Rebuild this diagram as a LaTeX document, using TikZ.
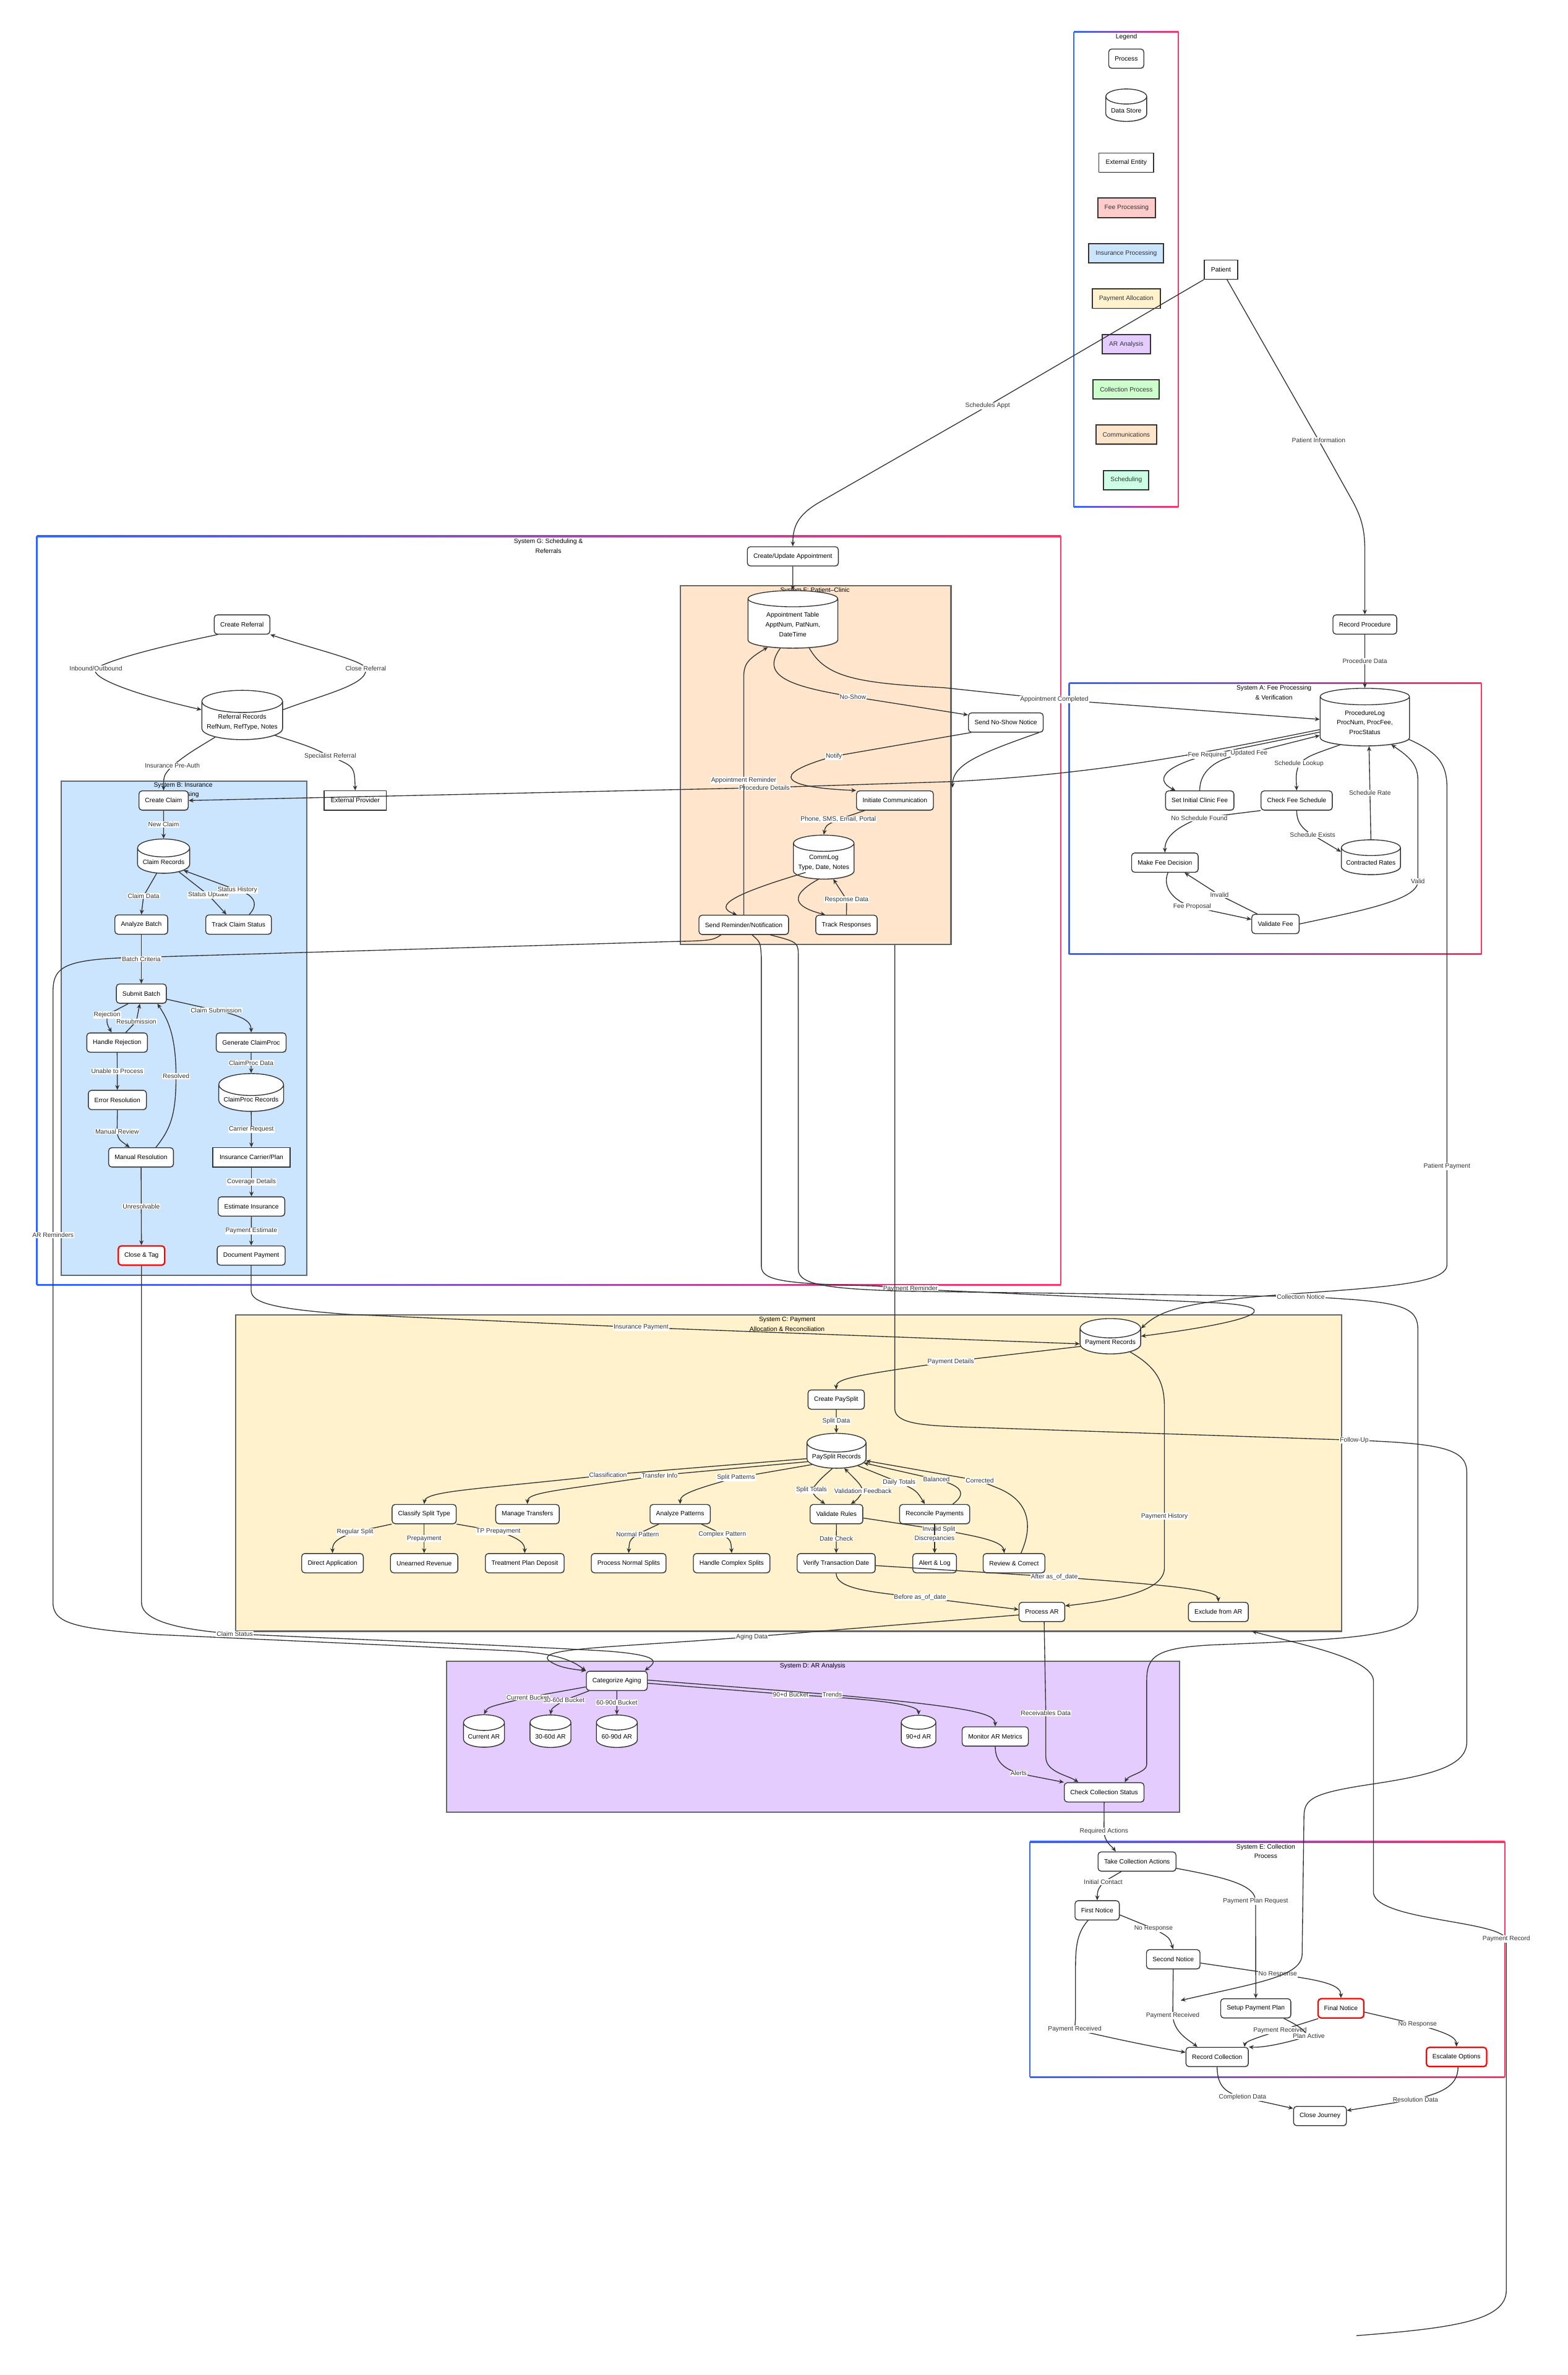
\documentclass[tikz,border=0pt]{standalone}
\usepackage{fontspec}
\setmainfont{Liberation Sans}
\usetikzlibrary{arrows.meta,shapes.geometric,shadows}
\definecolor{linec}{HTML}{333333}
\definecolor{boxc}{HTML}{666666}
\definecolor{gblue}{HTML}{3366FF}
\definecolor{gred}{HTML}{FF3366}
\definecolor{feec}{HTML}{FFCCCC}
\definecolor{insc}{HTML}{CCE5FF}
\definecolor{payc}{HTML}{FFF2CC}
\definecolor{arc}{HTML}{E5CCFF}
\definecolor{collc}{HTML}{CCFFCC}
\definecolor{commc}{HTML}{FFE5CC}
\definecolor{schedc}{HTML}{CCFFE5}
\newcommand\ndfont{\fontsize{4.2}{6.4}\selectfont}
\newcommand\lbfont{\fontsize{4.2}{5}\selectfont}
\newcommand\gradbox[4]{%
  \shade[left color=gblue,right color=gred] (#1,#2-0.45) rectangle (#3,#2+0.45);
  \shade[left color=gblue,right color=gred] (#1,#4-0.45) rectangle (#3,#4+0.45);
  \draw[gblue,line width=0.9pt] (#1,#2) -- (#1,#4);
  \draw[gred,line width=0.9pt] (#3,#2) -- (#3,#4);}
\tikzset{
  >={Stealth[length=3.2pt,width=2.8pt]},
  flow/.style={draw=linec,line width=0.55pt,->},
  lbl/.style={fill=white,inner sep=0.4pt,font=\lbfont,text=linec},
  ttl/.style={font=\ndfont,align=center,inner sep=0pt},
  proc/.style={draw=linec,rounded corners=2pt,fill=white,line width=0.55pt,
    minimum height=12.7pt,inner xsep=4pt,inner ysep=1pt,font=\ndfont,
    drop shadow={shadow xshift=0.4pt,shadow yshift=-0.5pt,opacity=0.3}},
  crit/.style={proc,draw=red,line width=0.9pt},
  ext/.style={draw=linec,fill=white,line width=0.55pt,minimum height=12.7pt,
    inner xsep=4.5pt,inner ysep=1pt,font=\ndfont,
    drop shadow={shadow xshift=0.4pt,shadow yshift=-0.5pt,opacity=0.3}},
  key/.style={ext,line width=0.8pt,text=linec},
  store/.style={cylinder,shape border rotate=90,aspect=0.3,draw=linec,fill=white,
    line width=0.55pt,font=\ndfont,align=center,inner sep=1pt,
    drop shadow={shadow xshift=0.4pt,shadow yshift=-0.5pt,opacity=0.3}},
}
\begin{document}
\begin{tikzpicture}[x=1pt,y=-1pt]
\useasboundingbox (0,0) rectangle (1035,1568);
\fill[white] (0,0) rectangle (1035,1568);

\gradbox{708.9}{21.1}{778}{334.7}
\gradbox{24.3}{354}{700.3}{848.3}
\gradbox{705.8}{451}{978}{630}
\gradbox{679.8}{1216}{993.3}{1371.3}
\filldraw[fill=commc,draw=boxc,line width=0.9pt] (449.2,386.7) rectangle (627.8,623.4);
\filldraw[fill=insc,draw=boxc,line width=0.9pt] (40.4,515.6) rectangle (202.5,841.9);
\filldraw[fill=payc,draw=boxc,line width=0.9pt] (155.5,868) rectangle (885.5,1077);
\filldraw[fill=arc,draw=boxc,line width=0.9pt] (294.8,1096.8) rectangle (778.7,1196.4);

\node[ttl] (tLegend) at (743.6,24.5) {Legend};
\node[ttl] (tG) at (362,360.4) {System G: Scheduling \&\\Referrals};
\node[ttl] (tF) at (538,392.5) {System F: Patient–Clinic\\Communications};
\node[ttl] (tA) at (841,457.3) {System A: Fee Processing\\\& Verification};
\node[ttl] (tB) at (120.9,521.6) {System B: Insurance\\Processing};
\node[ttl] (tC) at (519.6,874.2) {System C: Payment\\Allocation \& Reconciliation};
\node[ttl] (tD) at (536.4,1099.9) {System D: AR Analysis};
\node[ttl] (tE) at (835.6,1222.2) {System E: Collection\\Process};

\node[proc] (lgProc) at (743.5,38.7) {Process};
\node[store,aspect=0.45,minimum width=27pt,minimum height=21.4pt] (lgStore) at (743.5,73) {Data Store};
\node[ext] (lgExt) at (743.5,107.4) {External Entity};
\node[key,fill=feec] (lgFee) at (743.7,137.2) {Fee Processing};
\node[key,fill=insc] (lgIns) at (743.5,167.2) {Insurance Processing};
\node[key,fill=payc] (lgPay) at (743.5,197.2) {Payment Allocation};
\node[key,fill=arc] (lgAR) at (743.5,227.2) {AR Analysis};
\node[key,fill=collc] (lgColl) at (743.5,257) {Collection Process};
\node[key,fill=commc] (lgComm) at (743.5,287) {Communications};
\node[key,fill=schedc] (lgSched) at (743.5,317) {Scheduling};

\node[ext] (patient) at (806,178) {Patient};

\node[proc] (apptUpd) at (523.4,367.3) {Create/Update Appointment};
\node[proc] (refCreate) at (159.8,412.3) {Create Referral};
\node[store,minimum width=53.3pt,minimum height=31pt] (refRec) at (159.9,476.8) {Referral Records\\RefNum, RefType, Notes};
\node[ext] (extProv) at (234.5,528.5) {External Provider};

\node[store,aspect=0.28,minimum width=59.3pt,minimum height=38pt] (apptTab) at (523.4,412.4) {Appointment Table\\ApptNum, PatNum,\\DateTime};
\node[proc] (noShow) at (664,477) {Send No-Show Notice};
\node[proc] (initComm) at (590.8,528.5) {Initiate Communication};
\node[store,minimum width=40pt,minimum height=29pt] (commLog) at (543.8,569.5) {CommLog\\Type, Date, Notes};
\node[proc] (sendRem) at (491,610.6) {Send Reminder/Notification};
\node[proc] (trackResp) at (558.8,610.6) {Track Responses};

\node[proc] (recProc) at (901,412.3) {Record Procedure};
\node[store,aspect=0.28,minimum width=59pt,minimum height=38pt] (procLog) at (901,477) {ProcedureLog\\ProcNum, ProcFee,\\ProcStatus};
\node[proc] (setFee) at (792,528.5) {Set Initial Clinic Fee};
\node[proc] (chkSched) at (856,528.5) {Check Fee Schedule};
\node[store,minimum width=39pt,minimum height=23pt] (contract) at (905,569.5) {Contracted Rates};
\node[proc] (feeDec) at (769,569.5) {Make Fee Decision};
\node[proc] (valFee) at (842,610) {Validate Fee};

\node[proc] (crClaim) at (108,528.5) {Create Claim};
\node[store,aspect=0.4,minimum width=34.4pt,minimum height=22.6pt] (claimRec) at (108,569.3) {Claim Records};
\node[proc] (anBatch) at (93.3,610.4) {Analyze Batch};
\node[proc] (trackClaim) at (157.5,610.4) {Track Claim Status};
\node[proc] (subBatch) at (93.3,656) {Submit Batch};
\node[proc] (handRej) at (77.3,688.3) {Handle Rejection};
\node[proc] (genCP) at (165.8,688.3) {Generate ClaimProc};
\node[proc] (errRes) at (77.5,726.2) {Error Resolution};
\node[store,aspect=0.38,minimum width=42.8pt,minimum height=23.7pt] (cpRec) at (165.8,726.1) {ClaimProc Records};
\node[proc] (manRes) at (93.1,764.1) {Manual Resolution};
\node[ext] (carrier) at (166,764.1) {Insurance Carrier/Plan};
\node[proc] (estIns) at (166,796.5) {Estimate Insurance};
\node[crit] (closeTag) at (93.4,828.9) {Close \& Tag};
\node[proc] (docPay) at (165.8,828.9) {Document Payment};

\node[store,aspect=0.36,minimum width=40pt,minimum height=23pt] (payRec) at (733,886.5) {Payment Records};
\node[proc] (crSplit) at (552,924) {Create PaySplit};
\node[store,aspect=0.36,minimum width=39pt,minimum height=23pt] (splitRec) at (552.2,962) {PaySplit Records};
\node[proc] (classify) at (280,999.6) {Classify Split Type};
\node[proc] (manTrans) at (348.2,999.6) {Manage Transfers};
\node[proc] (anPat) at (449,999.6) {Analyze Patterns};
\node[proc] (valRules) at (552.2,999.6) {Validate Rules};
\node[proc] (reconcile) at (617,999.6) {Reconcile Payments};
\node[proc] (directApp) at (219.5,1032) {Direct Application};
\node[proc] (unearned) at (280,1032) {Unearned Revenue};
\node[proc] (tpDeposit) at (346.4,1032) {Treatment Plan Deposit};
\node[proc] (normSplit) at (415,1032) {Process Normal Splits};
\node[proc] (cplxSplit) at (483,1032) {Handle Complex Splits};
\node[proc] (verDate) at (552,1032) {Verify Transaction Date};
\node[proc] (alertLog) at (617,1032) {Alert \& Log};
\node[proc] (review) at (669.4,1032) {Review \& Correct};
\node[proc] (procAR) at (687.8,1064.2) {Process AR};
\node[proc] (exclAR) at (804.3,1064.2) {Exclude from AR};

\node[proc] (catAging) at (407.2,1109.7) {Categorize Aging};
\node[store,aspect=0.45,minimum width=27pt,minimum height=21.4pt] (curAR) at (319.5,1146.5) {Current AR};
\node[store,aspect=0.45,minimum width=27pt,minimum height=21.4pt] (ar3060) at (363.4,1146.5) {30-60d AR};
\node[store,aspect=0.45,minimum width=27pt,minimum height=21.4pt] (ar6090) at (407.2,1146.5) {60-90d AR};
\node[store,aspect=0.5,minimum width=22.8pt,minimum height=21.4pt] (ar90) at (606.4,1146.5) {90+d AR};
\node[proc] (monAR) at (657,1146.4) {Monitor AR Metrics};
\node[proc] (chkColl) at (728.9,1183.3) {Check Collection Status};

\node[proc] (takeColl) at (750.6,1229) {Take Collection Actions};
\node[proc] (notice1) at (724.3,1261.2) {First Notice};
\node[proc] (notice2) at (774.5,1293.5) {Second Notice};
\node[proc] (payPlan) at (829,1325.9) {Setup Payment Plan};
\node[crit] (notice3) at (885.2,1325.9) {Final Notice};
\node[proc] (recColl) at (803.5,1358) {Record Collection};
\node[crit] (escal) at (961.5,1358) {Escalate Options};
\node[proc] (closeJ) at (871.4,1397) {Close Journey};

\coordinate (fRight) at (628.8,520);
\coordinate (fBottom) at (590.7,624);
\coordinate (fuEnd) at (779.4,1320.7);
\coordinate (prStart) at (895.4,1542);
\coordinate (cBottom) at (826.5,1077);

\draw[flow] (patient.south west) -- (652,268) node[lbl] (lSA) {Schedules Appt} -- (542,331) .. controls (526,340) and (523.4,348) .. (apptUpd.north);
\draw[flow] ([xshift=4pt]patient.south) -- (870.5,290.7) node[lbl] (lPI) {Patient Information} -- (893,331) .. controls (900,344) and (901,352) .. (901,365) -- (recProc.north);
\draw[flow] (recProc) -- node[lbl] (lPD) {Procedure Data} (procLog);

\draw[flow] ([xshift=-16pt]refCreate.south) .. controls (100,428) and (72,436) .. (63.3,441.3) node[lbl] (lIO) {Inbound/Outbound} .. controls (58,448) and (95,460) .. (refRec.163);
\draw[flow] (refRec.17) .. controls (215,458) and (243,452) .. (241.5,441.3) node[lbl] (lCR) {Close Referral} .. controls (240,436) and (205,428) .. (refCreate.south east);
\draw[flow] (refRec.209) .. controls (125,497) .. (113.8,505.5) node[lbl] (lIPA) {Insurance Pre-Auth} .. controls (108,512) .. (crClaim.north);
\draw[flow] (refRec.338) .. controls (205,493) .. (218,499.4) node[lbl] (lSR) {Specialist Referral} .. controls (234,506) .. (extProv.north);

\draw[flow] (apptUpd) -- (apptTab);
\draw[flow] (apptTab.242) .. controls (502,446) and (520,453) .. (563,460) node[lbl] (lNS) {No-Show} -- ([yshift=5pt]noShow.west);
\draw[flow] (apptTab.305) .. controls (545,447) and (565,451) .. (623,454) -- (696,461.8) node[lbl] (lAC) {Appointment Completed} -- (procLog.176);
\draw[flow] ([xshift=-23pt]noShow.south) -- (550.5,499.3) node[lbl] (lNo) {Notify} .. controls (505,512) and (518,520) .. (initComm.north west);
\draw[flow] ([xshift=22pt]noShow.south) .. controls (645,498) and (628.8,505) .. (fRight);
\draw[flow] ([xshift=-20pt]initComm.south) -- (553.4,541) node[lbl] (lPh) {Phone, SMS, Email, Portal} .. controls (545,545) .. (commLog.90);
\draw[flow] ([xshift=-12pt,yshift=-6.5pt]commLog.center) .. controls (485,590) and (470,598) .. ([xshift=-4.5pt]sendRem.north);
\draw[flow] (commLog.252) .. controls (516,594) and (530,600) .. ([xshift=-14pt]trackResp.north);
\draw[flow] (trackResp.north) -- (558.9,594) node[lbl] (lRD) {Response Data} -- (commLog.300);
\draw[flow] (procLog.189) .. controls (790,498) and (725,511) .. (628.8,516) -- (504.7,520) node[lbl] (lPDt) {Procedure Details} -- (crClaim.east);
\draw[flow] (sendRem.north) -- (491,515.3) node[lbl] (lApR) {Appointment Reminder} -- (491,447) .. controls (491,438) and (494,435) .. (apptTab.222);
\draw[flow] ([xshift=-15pt]sendRem.south) .. controls (470,621) .. (441,621.7) -- (80,632.4) .. controls (40,634) and (35,640) .. (35,655) -- (35,815.4) node[lbl] (lARm) {AR Reminders} -- (35,1058) .. controls (35,1072) and (50,1075) .. (100,1079) -- (340,1090) .. controls (372,1092) and (380,1098) .. (catAging.north west);
\draw[flow] ([xshift=5.5pt]sendRem.south) .. controls (502,622) .. (502.6,632) -- (502.6,836) .. controls (502.6,846) and (520,847.5) .. (577.8,849) -- (601,851) node[lbl] (lPRm) {Payment Reminder} -- (800,860) .. controls (845,862) and (840,871) .. (payRec.12);
\draw[flow] (procLog.339) .. controls (950,497) and (955.2,505) .. (955.2,520) -- (955.2,770) node[lbl] (lPP) {Patient Payment} -- (955.2,835) .. controls (955.2,848) and (910,850) .. (842.6,855) .. controls (778,860) and (765,866) .. (payRec.25);
\draw[flow] ([xshift=17.5pt]sendRem.south) .. controls (527,622) .. (527,632) -- (527,838) .. controls (527,848) and (545,851) .. (600,852.5) -- (858.7,856) node[lbl] (lCN) {Collection Notice} .. controls (925,859) and (936,862) .. (936,878) -- (936,1060) .. controls (936,1080) and (900,1082) .. (800,1086) .. controls (762,1088) and (757,1094) .. (757,1110) -- (757,1165) .. controls (757,1170) and (745,1172) .. ([xshift=13.6pt]chkColl.north);

\draw[flow] (procLog.192) -- (797,498.5) node[lbl] (lFR) {Fee Required} .. controls (768,506) and (762,515) .. ([xshift=-16pt]setFee.north);
\draw[flow] (setFee.north) .. controls (792,506) and (808,499) .. (824.6,497.3) node[lbl] (lUF) {Updated Fee} -- (procLog.196);
\draw[flow] (procLog.222) .. controls (864,499) .. (857.5,504.3) node[lbl] (lSL) {Schedule Lookup} .. controls (855.5,511) .. (chkSched.north);
\draw[flow] (chkSched.south west) -- (791.7,540.2) node[lbl] (lNSF) {No Schedule Found} .. controls (772,548) and (769,555) .. (feeDec.north);
\draw[flow] (chkSched.south) .. controls (856,544) and (861,548) .. (866.5,551.2) node[lbl] (lSE) {Schedule Exists} -- (contract.160);
\draw[flow] (contract.90) -- node[lbl] (lSRt) {Schedule Rate} (procLog.280);
\draw[flow] ([xshift=2pt]feeDec.south) .. controls (767,586) and (775,595) .. (787,598.6) node[lbl] (lFP) {Fee Proposal} -- ([yshift=3pt]valFee.west);
\draw[flow] ([xshift=-12pt]valFee.north) -- (805,590.9) node[lbl] (lInv) {Invalid} -- ([xshift=13pt]feeDec.south);
\draw[flow] (valFee.east) .. controls (900,601) and (936,594) .. (936,581.9) node[lbl] (lVal) {Valid} -- (936,515) .. controls (936,505) and (931,500) .. (procLog.320);

\draw[flow] (crClaim) -- node[lbl] (lNC) {New Claim} (claimRec);
\draw[flow] (claimRec.238) -- (94.8,591.5) node[lbl] (lCD) {Claim Data} -- (anBatch.north);
\draw[flow] (claimRec.328) -- (137.5,590.8) node[lbl] (lSU) {Status Update} -- ([xshift=-8pt]trackClaim.north);
\draw[flow] ([xshift=7pt]trackClaim.north) .. controls (172,596) and (166,590) .. (156.7,587.7) node[lbl] (lSH) {Status History} -- (claimRec.338);
\draw[flow] (anBatch) -- node[lbl] (lBC) {Batch Criteria} (subBatch);
\draw[flow] ([xshift=-8.6pt]subBatch.south) -- (70.7,670) node[lbl] (lRj) {Rejection} .. controls (70.5,676) .. ([xshift=-3.6pt]handRej.north);
\draw[flow] ([xshift=5.7pt]handRej.north) -- (90,674.3) node[lbl] (lRs) {Resubmission} -- ([xshift=-1pt]subBatch.south);
\draw[flow] ([yshift=-3.7pt]subBatch.east) -- (142.7,667) node[lbl] (lCS) {Claim Submission} .. controls (162,671) and (165.8,675) .. (genCP.north);
\draw[flow] (handRej) -- node[lbl] (lUP) {Unable to Process} (errRes);
\draw[flow] (genCP) -- node[lbl] (lCPD) {ClaimProc Data} (cpRec);
\draw[flow] (errRes.south) .. controls (77.5,740) .. (77.3,747) node[lbl] (lMRv) {Manual Review} .. controls (78,752) .. ([xshift=-7.5pt]manRes.north);
\draw[flow] ([xshift=9.8pt]manRes.north) .. controls (113,745) and (116.2,735) .. (116.2,710.5) node[lbl] (lRes) {Resolved} .. controls (116.2,682) and (110,672) .. ([xshift=10.6pt]subBatch.south);
\draw[flow] (cpRec) -- node[lbl] (lCRq) {Carrier Request} (carrier);
\draw[flow] (carrier) -- node[lbl] (lCov) {Coverage Details} (estIns);
\draw[flow] (manRes) -- node[lbl] (lUnr) {Unresolvable} (closeTag);
\draw[flow] (estIns) -- node[lbl] (lPE) {Payment Estimate} (docPay);
\draw[flow] (docPay.south) -- (165.8,852) .. controls (165.8,860) and (180,864) .. (229,867.7) -- (423.2,876.4) node[lbl] (lIP) {Insurance Payment} -- (payRec.182);
\draw[flow] (closeTag.south) -- (93.4,1058) .. controls (93.4,1070) and (118,1076) .. (155,1078.7) node[lbl] (lCSt) {Claim Status} .. controls (250,1083) and (330,1086) .. (400,1090) .. controls (440,1093) and (432,1098) .. ([xshift=-2pt]catAging.north east);

\draw[flow] (payRec.187) -- (627.6,898.9) node[lbl] (lPDe) {Payment Details} .. controls (565,908) and (552,910) .. (crSplit.north);
\draw[flow] (crSplit) -- node[lbl] (lSD) {Split Data} (splitRec);
\draw[flow] (splitRec.183) -- (401.4,973.7) node[lbl] (lCl) {Classification} .. controls (320,983) and (281,984) .. (classify.north);
\draw[flow] (splitRec.189) -- (435.4,974) node[lbl] (lTI) {Transfer Info} .. controls (370,984) and (348.2,985) .. (manTrans.north);
\draw[flow] (splitRec.197) -- (485.9,975.6) node[lbl] (lSP) {Split Patterns} .. controls (455,984) and (449,987) .. (anPat.north);
\draw[flow] (splitRec.250) .. controls (541,977) .. (535.7,983.8) node[lbl] (lST) {Split Totals} .. controls (538,988) .. ([xshift=-7.5pt]valRules.north);
\draw[flow,<->] ([xshift=9.5pt]valRules.north) .. controls (566,990) .. (569.7,984.5) node[lbl] (lVF) {Validation Feedback} .. controls (568,980) .. (splitRec.305);
\draw[flow] (splitRec.338) -- (593.6,978.7) node[lbl] (lDT) {Daily Totals} .. controls (605,984) .. ([xshift=-6.5pt]reconcile.north);
\draw[flow] ([xshift=12pt]reconcile.north) .. controls (640,985) and (632,980) .. (618.2,976.7) node[lbl] (lBal) {Balanced} -- (splitRec.348);
\draw[flow] ([xshift=4.6pt]review.north) .. controls (680,1012) and (683,993) .. (660,983) -- (646.8,977.6) node[lbl] (lCor) {Corrected} -- (splitRec.353);
\draw[flow] (classify.south west) -- (234.4,1011.4) node[lbl] (lRS) {Regular Split} .. controls (221,1016) and (219.5,1019) .. (directApp.north);
\draw[flow] (classify) -- node[lbl] (lPre) {Prepayment} (unearned);
\draw[flow] (classify.south east) -- (329,1011) node[lbl] (lTP) {TP Prepayment} .. controls (344,1016) and (346.4,1019) .. (tpDeposit.north);
\draw[flow] ([xshift=-14pt]anPat.south) -- (420.9,1012.8) node[lbl] (lNP) {Normal Pattern} .. controls (415.5,1017) .. (normSplit.north);
\draw[flow] ([xshift=14pt]anPat.south) -- (476.8,1012.8) node[lbl] (lCP) {Complex Pattern} .. controls (482.5,1017) .. (cplxSplit.north);
\draw[flow] ([yshift=-2.6pt]valRules.east) -- (619.8,1009.8) node[lbl] (lIS) {Invalid Split} .. controls (650,1015) and (662,1018) .. ([xshift=-6.4pt]review.north);
\draw[flow] (reconcile) -- node[lbl] (lDis) {Discrepancies} (alertLog);
\draw[flow] (valRules) -- node[lbl] (lDC) {Date Check} (verDate);
\draw[flow] ([yshift=-1.6pt]verDate.east) -- (696,1041) node[lbl] (lAft) {After as\_of\_date} .. controls (780,1047) and (804,1050) .. (exclAR.north);
\draw[flow] (verDate.south) .. controls (552,1048) and (570,1051) .. (607.4,1054.5) node[lbl] (lBef) {Before as\_of\_date} -- ([yshift=1.6pt]procAR.west);
\draw[flow] (payRec.335) .. controls (766,904) and (768.7,915) .. (768.7,930) -- (768.7,1001) node[lbl] (lPH) {Payment History} -- (768.7,1035) .. controls (768.7,1050) and (740,1056) .. ([yshift=4pt]procAR.east);
\draw[flow] ([yshift=-2pt]procAR.west) -- (496.4,1080.6) node[lbl] (lAD) {Aging Data} .. controls (400,1088) and (355,1088) .. (362,1096) .. controls (368,1101) and (378,1102) .. (catAging.north west);

\draw[flow] ([yshift=-4pt]catAging.west) -- (348.4,1120.6) node[lbl] (lCB) {Current Bucket} .. controls (322,1127) .. (curAR.90);
\draw[flow] ([xshift=2pt]catAging.south west) -- (372.3,1122.6) node[lbl] (l36) {30-60d Bucket} .. controls (364,1128) .. (ar3060.90);
\draw[flow] (catAging) -- node[lbl] (l69) {60-90d Bucket} (ar6090);
\draw[flow] ([yshift=-1.6pt]catAging.east) -- (522,1118.8) node[lbl] (l90) {90+d Bucket} .. controls (585,1122) and (606.4,1126) .. (ar90.90);
\draw[flow] ([yshift=0.5pt]catAging.east) -- (549.4,1118.8) node[lbl] (lTr) {Trends} .. controls (640,1127) and (657,1131) .. (monAR.north);
\draw[flow] (monAR.south) .. controls (657,1164) and (664,1168) .. (672.5,1170.8) node[lbl] (lAl) {Alerts} -- (chkColl.north west);
\draw[flow] ([xshift=1.5pt]procAR.south) -- (690.4,1131) node[lbl] (lRcv) {Receivables Data} -- (690.4,1160) .. controls (690.4,1170) and (705,1172) .. ([xshift=-17pt]chkColl.north);

\draw[flow] (chkColl.south) -- (728.8,1209.1) node[lbl] (lRA) {Required Actions} .. controls (729,1216) and (734,1219) .. ([xshift=-14pt]takeColl.north);
\draw[flow] ([xshift=-10.4pt]takeColl.south) -- (728.3,1242.6) node[lbl] (lIC) {Initial Contact} .. controls (724.5,1248) .. (notice1.north);
\draw[flow] ([yshift=-4.5pt]takeColl.east) .. controls (812,1240) and (828.9,1245) .. (828.9,1255.3) node[lbl] (lPPR) {Payment Plan Request} -- (payPlan.north);
\draw[flow] ([yshift=-3pt]notice1.east) -- (761.5,1273.3) node[lbl] (lNR1) {No Response} .. controls (772,1279) .. (notice2.north);
\draw[flow] ([yshift=-2.5pt]notice2.east) -- (843.5,1303.5) node[lbl] (lNR2) {No Response} .. controls (880,1308) and (885.2,1312) .. (notice3.north);
\draw[flow] ([xshift=-6pt]notice1.south) .. controls (711,1276) and (710,1285) .. (710,1300) -- (710,1332) .. controls (710,1336) .. (709.5,1339.8) node[lbl] (lPRc1) {Payment Received} .. controls (735,1346) and (765,1352) .. ([yshift=3pt]recColl.west);
\draw[flow] (notice2.south) -- (774.2,1330.8) node[lbl] (lPRc2) {Payment Received} .. controls (775,1342) and (785,1347) .. ([xshift=-13pt]recColl.north);
\draw[flow] ([xshift=-15pt]notice3.south) -- (845,1340.6) node[lbl] (lPRc3) {Payment Received} .. controls (830,1345) and (822,1348) .. ([xshift=18pt]recColl.north);
\draw[flow] ([xshift=18.5pt]payPlan.south) .. controls (858,1338) .. (864,1344.2) node[lbl] (lPA) {Plan Active} .. controls (845,1350) and (832,1352) .. (recColl.north east);
\draw[flow] ([yshift=-2.5pt]notice3.east) -- (935.8,1336.6) node[lbl] (lNR3) {No Response} .. controls (955,1342) and (961.5,1345) .. (escal.north);
\draw[flow] (recColl.south) .. controls (803.5,1378) and (810,1382) .. (820.3,1384.6) node[lbl] (lCmp) {Completion Data} -- ([yshift=5pt]closeJ.west);
\draw[flow] ([xshift=1pt]escal.south) .. controls (962.5,1378) and (950,1382) .. (934.4,1386) node[lbl] (lRsl) {Resolution Data} -- ([yshift=3.6pt]closeJ.east);

\draw[flow] (fBottom) -- (590.7,930) .. controls (590.7,940) and (610,941) .. (632.7,942) -- (894,950.8) node[lbl] (lFU) {Follow-Up} .. controls (950,953) and (968.3,956) .. (968.3,972) -- (968.3,1150) .. controls (968.3,1166) and (945,1172) .. (905,1178) .. controls (865,1184) and (860.8,1188) .. (860.8,1200) -- (859.6,1290) .. controls (859.6,1305) and (830,1309) .. (fuEnd);
\draw[flow] (prStart) .. controls (960,1537) and (994.4,1532) .. (994.4,1512) -- (994.4,1280.2) node[lbl] (lPRec) {Payment Record} .. controls (990,1268) and (910,1268) .. (906.7,1250) -- (906.7,1110) .. controls (906.7,1095) and (860,1086) .. (cBottom);
\end{tikzpicture}
\end{document}
